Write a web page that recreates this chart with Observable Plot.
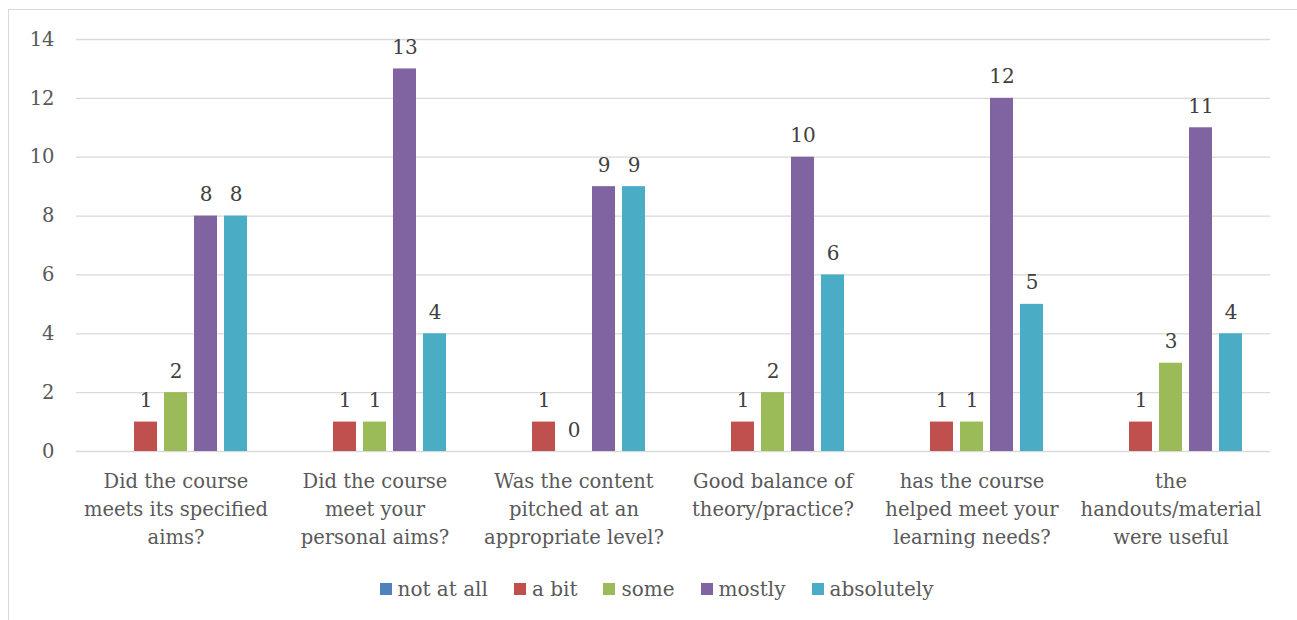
<!DOCTYPE html>
<html><head><meta charset="utf-8">
<script src="https://cdn.jsdelivr.net/npm/d3@7"></script>
<script src="https://cdn.jsdelivr.net/npm/@observablehq/plot@0.6"></script>
<style>
html,body{margin:0;padding:0;background:#fff;}
body{width:1297px;height:620px;overflow:hidden;position:relative;font-family:"DejaVu Serif",serif;}
#frame{position:absolute;left:8px;top:9px;width:1300px;height:640px;border:1px solid #D9D9D9;box-sizing:border-box;}
#chart{position:absolute;left:0;top:0;}
#legend{position:absolute;top:577px;left:8px;width:1297px;display:flex;justify-content:center;align-items:center;gap:0;font-size:20px;color:#595959;}
#legend .item{display:flex;align-items:center;margin:0 13px;}
#legend .sw{width:12px;height:12px;margin-right:6px;}
</style>
</head><body>
<div id="frame"></div>
<div id="chart"></div>
<div id="legend"></div>
<script>
const categories = [
  "Did the course\nmeets its specified\naims?",
  "Did the course\nmeet your\npersonal aims?",
  "Was the content\npitched at an\nappropriate level?",
  "Good balance of\ntheory/practice?",
  "has the course\nhelped meet your\nlearning needs?",
  "the\nhandouts/material\nwere useful"
];
const series = ["not at all", "a bit", "some", "mostly", "absolutely"];
const colors = ["#4F81BD", "#C0504D", "#9BBB59", "#8064A2", "#4BACC6"];
const notAtAll   = [null, null, null, null, null, null];
const aBit       = [1, 1, 1, 1, 1, 1];
const some       = [2, 1, 0, 2, 1, 3];
const mostly     = [8, 13, 9, 10, 12, 11];
const absolutely = [8, 4, 9, 6, 5, 4];
const yTicks = [0, 2, 4, 6, 8, 10, 12, 14];

const seriesValues = [notAtAll, aBit, some, mostly, absolutely];
const rows = [];
categories.forEach((c, i) => {
  series.forEach((s, j) => {
    const v = seriesValues[j][i];
    if (v != null) rows.push({category: c, series: s, value: v});
  });
});

const chart = Plot.plot({
  width: 1297,
  height: 570,
  marginTop: 39,
  marginLeft: 74,
  marginRight: 26,
  marginBottom: 119,
  style: {fontFamily: "DejaVu Serif", fontSize: "19px", color: "#595959", background: "transparent", overflow: "visible"},
  fx: {domain: categories, padding: 0, label: null},
  x: {domain: series, paddingInner: 0.2195, paddingOuter: 0.854, axis: null},
  y: {domain: [0, 14], label: null, axis: null},
  color: {domain: series, range: colors},
  marks: [
    Plot.ruleY(yTicks, {stroke: "#D9D9D9", strokeWidth: 1.3}),
    Plot.barY(rows, {fx: "category", x: "series", y: "value", fill: "series"}),
    Plot.text(rows, {fx: "category", x: "series", y: "value", text: d => String(d.value), lineAnchor: "bottom", dy: -15, fill: "#404040", fontSize: 20}),
    Plot.axisY({ticks: yTicks, tickSize: 0, tickPadding: 22, fontSize: 19.5, label: null}),
    Plot.axisFx({anchor: "bottom", tickSize: 0, tickPadding: 17, fontSize: 19.5, lineHeight: 1.43, label: null, fill: "#595959"})
  ]
});
document.getElementById("chart").appendChild(chart);

const legend = document.getElementById("legend");
series.forEach((s, i) => {
  const it = document.createElement("div");
  it.className = "item";
  const sw = document.createElement("span");
  sw.className = "sw";
  sw.style.background = colors[i];
  const t = document.createElement("span");
  t.textContent = s;
  it.appendChild(sw); it.appendChild(t);
  legend.appendChild(it);
});
</script>
</body></html>
